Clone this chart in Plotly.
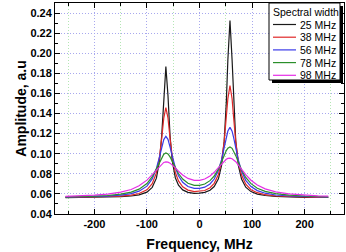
import plotly.graph_objects as go

freq = [-255, -230, -200, -175, -150, -130, -115, -100, -90, -82, -76, -72, -68, -64, -60, -56, -52, -46, -40, -32, -22, -10, 0,
        10, 20, 28, 36, 42, 47, 51, 54, 58, 62, 65, 69, 74, 80, 88, 98, 110, 125, 145, 170, 200, 225, 245]

amp_25 = [0.0563, 0.0564, 0.0565, 0.0568, 0.0572, 0.0579, 0.0591, 0.0618, 0.0665, 0.0757, 0.0931, 0.1175, 0.1578, 0.1867,
          0.1579, 0.1176, 0.0933, 0.0761, 0.0686, 0.0640, 0.0615, 0.0606, 0.0607, 0.0615, 0.0636, 0.0673, 0.0750, 0.0883,
          0.1125, 0.1509, 0.1935, 0.2325, 0.1935, 0.1507, 0.1123, 0.0881, 0.0747, 0.0667, 0.0623, 0.0598, 0.0584, 0.0575,
          0.0569, 0.0566, 0.0565, 0.0564]
amp_38 = [0.0564, 0.0566, 0.0568, 0.0571, 0.0577, 0.0588, 0.0604, 0.0641, 0.0701, 0.0809, 0.0973, 0.1150, 0.1354, 0.1459,
          0.1356, 0.1152, 0.0977, 0.0814, 0.0729, 0.0670, 0.0638, 0.0623, 0.0625, 0.0634, 0.0661, 0.0705, 0.0793, 0.0926,
          0.1124, 0.1358, 0.1548, 0.1677, 0.1547, 0.1356, 0.1121, 0.0922, 0.0787, 0.0697, 0.0642, 0.0612, 0.0592, 0.0579,
          0.0573, 0.0569, 0.0566, 0.0565]
amp_56 = [0.0567, 0.0569, 0.0572, 0.0578, 0.0587, 0.0603, 0.0627, 0.0677, 0.0749, 0.0853, 0.0971, 0.1063, 0.1141, 0.1173,
          0.1143, 0.1066, 0.0976, 0.0861, 0.0780, 0.0716, 0.0674, 0.0655, 0.0655, 0.0667, 0.0699, 0.0748, 0.0835, 0.0941,
          0.1060, 0.1163, 0.1226, 0.1262, 0.1225, 0.1160, 0.1056, 0.0935, 0.0826, 0.0735, 0.0673, 0.0633, 0.0607, 0.0589,
          0.0579, 0.0572, 0.0569, 0.0568]
amp_78 = [0.0570, 0.0572, 0.0577, 0.0584, 0.0597, 0.0618, 0.0647, 0.0703, 0.0771, 0.0849, 0.0919, 0.0963, 0.0995, 0.1008,
          0.0997, 0.0968, 0.0926, 0.0860, 0.0803, 0.0748, 0.0706, 0.0685, 0.0685, 0.0699, 0.0732, 0.0778, 0.0849, 0.0920,
          0.0985, 0.1031, 0.1055, 0.1068, 0.1054, 0.1028, 0.0981, 0.0914, 0.0840, 0.0764, 0.0702, 0.0656, 0.0625, 0.0602,
          0.0588, 0.0579, 0.0574, 0.0571]
amp_98 = [0.0576, 0.0579, 0.0587, 0.0598, 0.0617, 0.0644, 0.0681, 0.0737, 0.0793, 0.0843, 0.0879, 0.0899, 0.0913, 0.0918,
          0.0916, 0.0906, 0.0889, 0.0859, 0.0826, 0.0789, 0.0754, 0.0735, 0.0735, 0.0748, 0.0779, 0.0815, 0.0861, 0.0898,
          0.0927, 0.0945, 0.0953, 0.0956, 0.0950, 0.0940, 0.0920, 0.0887, 0.0845, 0.0791, 0.0736, 0.0689, 0.0650, 0.0621,
          0.0600, 0.0587, 0.0581, 0.0577]

series_names = ["25 MHz", "38 MHz", "56 MHz", "78 MHz", "98 MHz"]
series_values = [amp_25, amp_38, amp_56, amp_78, amp_98]
colors = ["#1a1a1a", "#e02828", "#3a3ae8", "#2a8f2a", "#e62ee6"]
legend_title = "Spectral width"

x_tickvals = [-200, -100, 0, 100, 200]
x_ticktext = ["-200", "-100", "0", "100", "200"]

W, H = 346, 252
L, R, T, B = 55, 2, 3, 38
PW, PH = W - L - R, H - T - B

def px(x):
    return (x - L) / PW

def py(y):
    return (H - B - y) / PH

fig = go.Figure()
for name, vals, c in zip(series_names, series_values, colors):
    fig.add_trace(go.Scatter(x=freq, y=vals, mode="lines", name=name,
                             line=dict(color=c, width=1.2), showlegend=False))

tickfont = dict(family="Liberation Sans, Arial, sans-serif", size=11, color="black", weight="bold")
titlefont = dict(family="Liberation Sans, Arial, sans-serif", size=14, color="black", weight="bold")
grid_dash = "1px,2px"

fig.update_xaxes(range=[-275, 275], tickmode="array", tickvals=x_tickvals, ticktext=x_ticktext,
                 ticks="inside", ticklen=5, tickcolor="black",
                 showline=True, linecolor="black", linewidth=1, mirror="ticks",
                 showgrid=True, gridcolor="#a8a8ee", griddash=grid_dash, gridwidth=1, zeroline=False,
                 tickfont=tickfont,
                 title=dict(text="Frequency, MHz", font=titlefont, standoff=9),
                 minor=dict(dtick=50, tick0=0, ticks="inside", ticklen=3, tickcolor="black",
                            showgrid=True, gridcolor="#b4e6b4", griddash=grid_dash, gridwidth=1))
fig.update_yaxes(range=[0.04, 0.25], tick0=0.04, dtick=0.02, tickformat=".2f", ticks="inside", ticklen=5,
                 tickcolor="black", showline=True, linecolor="black", linewidth=1, mirror="ticks",
                 showgrid=True, gridcolor="#a8a8ee", griddash=grid_dash, gridwidth=1, zeroline=False,
                 tickfont=tickfont,
                 title=dict(text="Amplitude, a.u", font=titlefont, standoff=0),
                 minor=dict(dtick=0.01, ticks="inside", ticklen=3, tickcolor="black", showgrid=False))

# custom legend box
bx0, bx1, by0, by1 = 269, 340, 3, 80
shapes = [
    dict(type="rect", xref="paper", yref="paper", x0=px(bx0 + 3), x1=px(bx1 + 3), y0=py(by1 + 3), y1=py(by0 + 3),
         fillcolor="black", line=dict(width=0), layer="above"),
    dict(type="rect", xref="paper", yref="paper", x0=px(bx0), x1=px(bx1), y0=py(by1), y1=py(by0),
         fillcolor="white", line=dict(color="black", width=1), layer="above"),
]
annotations = [dict(text=legend_title, xref="paper", yref="paper", x=px(271), y=py(12), xanchor="left",
                    yanchor="middle", showarrow=False,
                    font=dict(family="Liberation Sans, Arial, sans-serif", size=10.5, color="black"))]
for i, (name, c) in enumerate(zip(series_names, colors)):
    yy = 24.5 + i * 12.7
    shapes.append(dict(type="line", xref="paper", yref="paper", x0=px(273), x1=px(296), y0=py(yy), y1=py(yy),
                       line=dict(color=c, width=1.2), layer="above"))
    annotations.append(dict(text=name, xref="paper", yref="paper", x=px(338), y=py(yy), xanchor="right",
                            yanchor="middle", showarrow=False,
                            font=dict(family="Liberation Sans, Arial, sans-serif", size=10.5, color="black")))

fig.update_layout(width=W, height=H, margin=dict(l=L, r=R, t=T, b=B),
                  paper_bgcolor="white", plot_bgcolor="white",
                  shapes=shapes, annotations=annotations, showlegend=False)

fig.write_html("out.html")
